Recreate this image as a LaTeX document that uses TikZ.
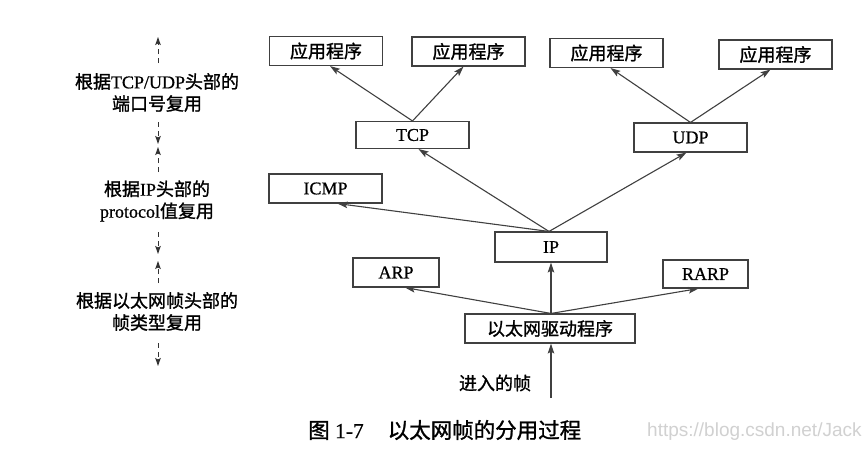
\documentclass[tikz,border=0pt]{standalone}
\usepackage{fontspec}
\setmainfont[FakeBold=0.7]{Liberation Serif}
\newfontfamily\cjk[FakeBold=1.2]{Noto Sans CJK SC}
\newfontfamily\wmfont{Liberation Sans}
\usetikzlibrary{arrows.meta}
\begin{document}
\begin{tikzpicture}[x=1pt,y=-1pt,
  box/.style={draw=black!75,line width=1.1pt,inner sep=0pt,minimum width=113pt,minimum height=29pt,font=\fontsize{18}{20}\selectfont},
  conn/.style={draw=black!75,line width=1.1pt,-{Stealth[length=10pt,width=6.5pt,inset=2pt]}},
  dasharrow/.style={draw=black!80,line width=1pt,dash pattern=on 5pt off 4pt,-{Stealth[length=8pt,width=5.5pt,inset=1.5pt]}},
  sidelabel/.style={align=center,inner sep=0pt,font=\fontsize{18}{22}\selectfont}]
\useasboundingbox[fill=white] (0,0) rectangle (863,461);

% boxes
\node[box] (app1) at (326,51) {\cjk 应用程序};
\node[box] (app2) at (468.5,51.5) {\cjk 应用程序};
\node[box] (app3) at (606.5,53) {\cjk 应用程序};
\node[box] (app4) at (775.5,54.5) {\cjk 应用程序};
\node[box,minimum height=27pt] (tcp) at (412.5,135) {TCP};
\node[box] (udp) at (690.5,137.5) {UDP};
\node[box] (icmp) at (325.5,188.5) {ICMP};
\node[box,minimum width=112pt,minimum height=30pt] (ip) at (551,247) {IP};
\node[box,minimum width=86pt] (arp) at (396,272.5) {ARP};
\node[box,minimum width=85pt,minimum height=28pt] (rarp) at (705.5,274) {RARP};
\node[box,minimum width=170pt] (drv) at (550,328.5) {\cjk 以太网驱动程序};
\node[inner sep=0pt,font=\fontsize{18}{20}\selectfont] (in) at (495,383) {\cjk 进入的帧};
\coordinate (src) at (551,398);

% connectors
\draw[conn] (tcp.north) -- ([xshift=4pt]app1.south);
\draw[conn] (tcp.north) -- ([xshift=-5pt]app2.south);
\draw[conn] (udp.north) -- ([xshift=4pt]app3.south);
\draw[conn] (udp.north) -- ([xshift=-5pt]app4.south);
\draw[conn] ([xshift=-2pt]ip.north) -- ([xshift=12pt]icmp.south);
\draw[conn] ([xshift=-2pt]ip.north) -- ([xshift=6pt]tcp.south);
\draw[conn] ([xshift=-2pt]ip.north) -- ([xshift=-4pt]udp.south);
\draw[conn] ([xshift=1pt]drv.north) -- ([xshift=9pt]arp.south);
\draw[conn] ([xshift=1pt]drv.north) -- (ip.south);
\draw[conn] ([xshift=1pt]drv.north) -- ([xshift=-7pt]rarp.south);
\draw[conn] (src) -- ([xshift=1pt]drv.south);

% side labels
\node[sidelabel] (l1) at (157,92.5) {{\cjk 根据}TCP/UDP{\cjk 头部的}\\{\cjk 端口号复用}};
\node[sidelabel] (l2) at (157,201) {{\cjk 根据}IP{\cjk 头部的}\\protocol{\cjk 值复用}};
\node[sidelabel] (l3) at (157,311.5) {{\cjk 根据以太网帧头部的}\\{\cjk 帧类型复用}};
\coordinate (s1) at (158,63);  \coordinate (t1) at (158,37);
\coordinate (s2) at (158,122); \coordinate (t2) at (158,144);
\coordinate (s3) at (158,172); \coordinate (t3) at (158,147);
\coordinate (s4) at (158,232); \coordinate (t4) at (158,254);
\coordinate (s5) at (158,283); \coordinate (t5) at (158,261);
\coordinate (s6) at (158,343); \coordinate (t6) at (158,366);
\draw[dasharrow] (s1) -- (t1);
\draw[dasharrow] (s2) -- (t2);
\draw[dasharrow] (s3) -- (t3);
\draw[dasharrow] (s4) -- (t4);
\draw[dasharrow] (s5) -- (t5);
\draw[dasharrow] (s6) -- (t6);

% caption and watermark
\node[anchor=west,inner sep=0pt,font=\fontsize{21.5}{23}\selectfont] (cap) at (308,430) {{\cjk 图} 1-7\hspace{24pt}{\cjk 以太网帧的分用过程}};
\node[anchor=west,inner sep=0pt,text=black!18,font=\wmfont\fontsize{19}{21}\selectfont] (wm) at (647,432) {https://blog.csdn.net/Jack};
\end{tikzpicture}
\end{document}
